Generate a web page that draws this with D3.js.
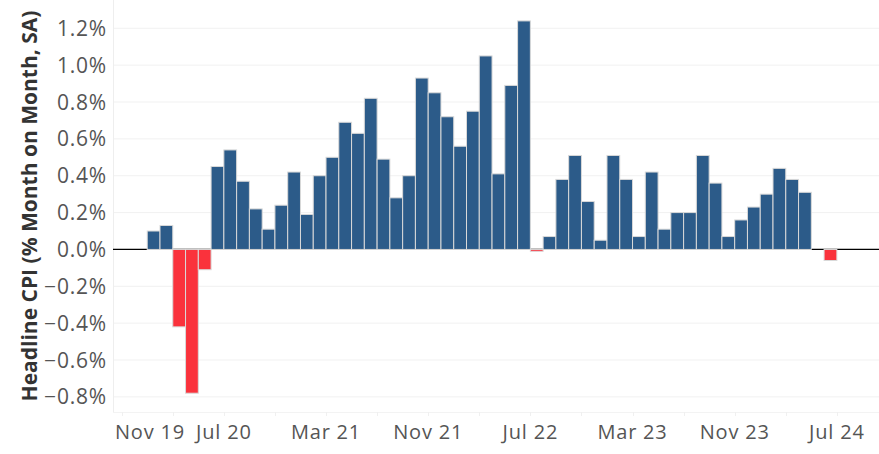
<!DOCTYPE html>
<html>
<head>
<meta charset="utf-8">
<script src="https://cdn.jsdelivr.net/npm/d3@7"></script>
<style>
  html, body { margin: 0; padding: 0; background: #fff; }
  svg { display: block; }
</style>
</head>
<body>
<svg id="chart" width="879" height="454"></svg>
<script>
// Month labels for each bar (Jan 20 .. Jun 24)
const months = [
  "Jan 20","Feb 20","Mar 20","Apr 20","May 20","Jun 20","Jul 20","Aug 20","Sep 20","Oct 20","Nov 20","Dec 20",
  "Jan 21","Feb 21","Mar 21","Apr 21","May 21","Jun 21","Jul 21","Aug 21","Sep 21","Oct 21","Nov 21","Dec 21",
  "Jan 22","Feb 22","Mar 22","Apr 22","May 22","Jun 22","Jul 22","Aug 22","Sep 22","Oct 22","Nov 22","Dec 22",
  "Jan 23","Feb 23","Mar 23","Apr 23","May 23","Jun 23","Jul 23","Aug 23","Sep 23","Oct 23","Nov 23","Dec 23",
  "Jan 24","Feb 24","Mar 24","Apr 24","May 24","Jun 24"
];
// Headline CPI, % month on month, SA
const cpiValues = [
  0.10, 0.13, -0.42, -0.78, -0.11, 0.45, 0.54, 0.37, 0.22, 0.11, 0.24, 0.42,
  0.19, 0.40, 0.50, 0.69, 0.63, 0.82, 0.49, 0.28, 0.40, 0.93, 0.85, 0.72,
  0.56, 0.75, 1.05, 0.41, 0.89, 1.24, -0.01, 0.07, 0.38, 0.51, 0.26, 0.05,
  0.51, 0.38, 0.07, 0.42, 0.11, 0.20, 0.20, 0.51, 0.36, 0.07, 0.16, 0.23,
  0.30, 0.44, 0.38, 0.31, 0.00, -0.06
];
// Axis months: all months shown on the axis, starting Nov 19
const axisMonths = [
  "Nov 19","Dec 19","Jan 20","Feb 20","Mar 20","Apr 20","May 20","Jun 20","Jul 20","Aug 20","Sep 20","Oct 20","Nov 20","Dec 20",
  "Jan 21","Feb 21","Mar 21","Apr 21","May 21","Jun 21","Jul 21","Aug 21","Sep 21","Oct 21","Nov 21","Dec 21",
  "Jan 22","Feb 22","Mar 22","Apr 22","May 22","Jun 22","Jul 22","Aug 22","Sep 22","Oct 22","Nov 22","Dec 22",
  "Jan 23","Feb 23","Mar 23","Apr 23","May 23","Jun 23","Jul 23","Aug 23","Sep 23","Oct 23","Nov 23","Dec 23",
  "Jan 24","Feb 24","Mar 24","Apr 24","May 24","Jun 24","Jul 24"
];
const xTickLabels = ["Nov 19","Jul 20","Mar 21","Nov 21","Jul 22","Mar 23","Nov 23","Jul 24"];
const xMinorTicks = ["Nov 19","Mar 20","Jul 20","Nov 20","Mar 21","Jul 21","Nov 21","Mar 22","Jul 22","Nov 22","Mar 23","Jul 23","Nov 23","Mar 24","Jul 24"];
const yTicks = [-0.8, -0.6, -0.4, -0.2, 0.0, 0.2, 0.4, 0.6, 0.8, 1.0, 1.2];
const yTitle = "Headline CPI (% Month on Month, SA)";

const svg = d3.select("#chart");
const plot = { left: 113, right: 879, top: 0, bottom: 412 };

const idx = m => axisMonths.indexOf(m);
const x = d3.scaleLinear().domain([-0.68, 59.3]).range([plot.left, plot.right]);
const y = d3.scaleLinear().domain([-0.882, 1.3535]).range([plot.bottom, plot.top]);

const data = months.map((m, i) => ({ m, v: cpiValues[i], i: idx(m) }));

// gridlines
svg.append("g").selectAll("line").data(yTicks.filter(t => t !== 0)).join("line")
  .attr("x1", plot.left).attr("x2", plot.right)
  .attr("y1", d => y(d)).attr("y2", d => y(d))
  .attr("stroke", "#f1f1f1").attr("stroke-width", 1);

// left border and bottom border
svg.append("line").attr("x1", plot.left + 0.5).attr("x2", plot.left + 0.5)
  .attr("y1", plot.top).attr("y2", plot.bottom).attr("stroke", "#eeeeee");
svg.append("line").attr("x1", plot.left).attr("x2", plot.right)
  .attr("y1", plot.bottom + 0.5).attr("y2", plot.bottom + 0.5).attr("stroke", "#f3f3f3");

// minor ticks at bottom
svg.append("g").selectAll("line").data(xMinorTicks).join("line")
  .attr("x1", d => Math.round(x(idx(d))) + 0.5).attr("x2", d => Math.round(x(idx(d))) + 0.5)
  .attr("y1", plot.bottom).attr("y2", plot.bottom + 4)
  .attr("stroke", "#f0f0f0");

// zero line
svg.append("line").attr("x1", plot.left).attr("x2", plot.right)
  .attr("y1", y(0)).attr("y2", y(0))
  .attr("stroke", "#000").attr("stroke-width", 1.3);

// bars
svg.append("g").selectAll("rect").data(data).join("rect")
  .attr("x", d => x(d.i))
  .attr("width", d => x(d.i + 1) - x(d.i))
  .attr("y", d => Math.min(y(d.v), y(0)))
  .attr("height", d => Math.abs(y(d.v) - y(0)))
  .attr("fill", d => d.v < 0 ? "#fa323c" : "#2c5b89")
  .attr("stroke", "#d9d9d9")
  .attr("stroke-width", 1);

// y tick labels
svg.append("g").selectAll("text").data(yTicks).join("text")
  .attr("x", 107)
  .attr("y", d => y(d))
  .attr("dy", "0.36em")
  .attr("text-anchor", "end")
  .attr("font-family", "'Open Sans', sans-serif")
  .attr("font-size", 21)
  .attr("letter-spacing", 0.8)
  .attr("fill", "#555")
  .text(d => d3.format(".1f")(d) + "%");

// x tick labels
svg.append("g").selectAll("text").data(xTickLabels).join("text")
  .attr("x", (d, i) => i === 0 ? plot.left + 2 : x(idx(d)))
  .attr("y", 439)
  .attr("text-anchor", (d, i) => i === 0 ? "start" : "middle")
  .attr("font-family", "'Open Sans', sans-serif")
  .attr("font-size", 20)
  .attr("letter-spacing", 0.8)
  .attr("fill", "#555")
  .text(d => d);

// y title
svg.append("text")
  .attr("transform", "translate(37,206) rotate(-90)")
  .attr("text-anchor", "middle")
  .attr("font-family", "'Open Sans', sans-serif")
  .attr("font-weight", "bold")
  .attr("font-size", 21)
  .attr("fill", "#333")
  .text(yTitle);
</script>
</body>
</html>
